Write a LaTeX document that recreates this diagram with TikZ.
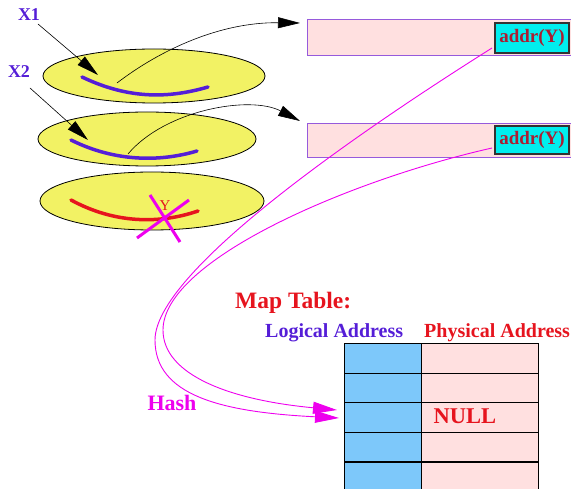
\documentclass[tikz,border=0pt]{standalone}
\usepackage{fontspec}
\setmainfont{Liberation Serif}
\usetikzlibrary{arrows.meta}

\definecolor{diskyellow}{RGB}{242,242,100}
\definecolor{ptrblue}{RGB}{85,30,215}
\definecolor{hotred}{RGB}{230,20,30}
\definecolor{addrred}{RGB}{170,30,50}
\definecolor{addrcyan}{RGB}{0,238,238}
\definecolor{rowpink}{RGB}{255,224,224}
\definecolor{rowblue}{RGB}{125,200,250}
\definecolor{frame}{RGB}{150,90,220}
\definecolor{hashpink}{RGB}{238,0,238}

\tikzset{
  disk/.style={draw=black, line width=0.8pt, fill=diskyellow},
  seg/.style={line width=3.5pt, line cap=round},
  pointer/.style={draw=black, line width=0.6pt,
    -{Triangle[length=22pt,width=11pt]}},
  hashline/.style={draw=hashpink, line width=0.9pt,
    -{Triangle[length=24pt,width=12pt]}},
  label/.style={inner sep=0pt, font=\bfseries\fontsize{20}{24}\selectfont},
  pagebox/.style={draw=frame, line width=1.2pt, fill=rowpink},
  addrbox/.style={draw=black!80, line width=1.2pt, fill=addrcyan},
  cell/.style={draw=black, line width=1.2pt}
}

\begin{document}
\begin{tikzpicture}[x=1pt, y=-1pt]
\useasboundingbox (0,0) rectangle (571,489);

% stack of disks
\fill[disk] (154,76) ellipse [x radius=111, y radius=27];
\fill[disk] (147,139) ellipse [x radius=109, y radius=27];
\fill[disk] (152,201) ellipse [x radius=112, y radius=29];

% live versions X1, X2 and the dead version Y
\draw[seg, ptrblue] (82,77) .. controls (130,100) and (170,98) .. (208,87);
\draw[seg, ptrblue] (71,140) .. controls (115,162) and (160,162) .. (197,151);
\draw[seg, hotred] (71,200) .. controls (115,224) and (160,224) .. (198,211);

\node[inner sep=0pt, text=hotred, font=\fontsize{15}{18}\selectfont] (ylab) at (165,206) {Y};
\draw[hashpink, line width=3pt] (150,195) -- (180,242);
\draw[hashpink, line width=3pt] (189,200) -- (137,238);

% labels of the versions
\node[label, text=ptrblue, font=\bfseries\fontsize{18}{20}\selectfont] (x1) at (29,15) {X1};
\node[label, text=ptrblue, font=\bfseries\fontsize{18}{20}\selectfont] (x2) at (19,72) {X2};
\coordinate (x1tail) at (38,24);
\coordinate (x1tip) at (98,75);
\coordinate (x2tail) at (30,88);
\coordinate (x2tip) at (88,140);
\draw[pointer] (x1tail) -- (x1tip);
\draw[pointer] (x2tail) -- (x2tip);

% pages holding the forward pointers
\node[pagebox, minimum width=268pt, minimum height=36pt, anchor=north west, inner sep=0pt] (page1) at (307,19) {};
\node[pagebox, minimum width=268pt, minimum height=34pt, anchor=north west, inner sep=0pt] (page2) at (307,123) {};
\node[addrbox, minimum width=74pt, minimum height=30pt, inner sep=0pt] (addr1) at (532,38)
  {\color{addrred}\bfseries\fontsize{19}{22}\selectfont addr(Y)};
\node[addrbox, minimum width=74pt, minimum height=28pt, inner sep=0pt] (addr2) at (532,140)
  {\color{addrred}\bfseries\fontsize{19}{22}\selectfont addr(Y)};

% pointers from the versions to their pages
\coordinate (v1) at (117,83);
\coordinate (v2) at (128,154);
\coordinate (p1in) at (300,23);
\coordinate (p2in) at (300,121);
\draw[pointer] (v1) .. controls (160,50) and (220,22) .. (p1in);
\draw[pointer] (v2) .. controls (165,110) and (250,95) .. (p2in);

% map table
\node[label, text=hotred, font=\bfseries\fontsize{23.5}{27}\selectfont, anchor=west] (maptitle) at (235,303) {Map Table:};
\node[label, text=ptrblue, anchor=west] (logical) at (265,333) {Logical Address};
\node[label, text=hotred, anchor=west] (physical) at (424,333) {Physical Address};

\foreach \r in {0,...,5} {
  \node[cell, fill=rowblue, anchor=north west, minimum width=77pt, minimum height=29.6pt, inner sep=0pt]
    (lg\r) at (344,{343+29.6*\r}) {};
  \node[cell, fill=rowpink, anchor=north west, minimum width=117pt, minimum height=29.6pt, inner sep=0pt]
    (ph\r) at (421,{343+29.6*\r}) {};
}
\node[label, text=hotred, font=\bfseries\fontsize{22.5}{26}\selectfont] (null) at (465,416) {NULL};

% hashing of both addresses into the same table slot
\coordinate (a1) at (492,48);
\coordinate (a2) at (492,148);
\coordinate (slotlow) at (339,418);
\coordinate (slothigh) at (337,410);
\draw[hashline] (a1) .. controls (400,106) and (155,265) .. (155,340)
  .. controls (155,395) and (220,412) .. (slotlow);
\draw[hashline] (a2) .. controls (350,180) and (163,260) .. (163,330)
  .. controls (163,375) and (230,400) .. (slothigh);
\node[label, text=hashpink, font=\bfseries\fontsize{22}{25}\selectfont] (hash) at (172,403) {Hash};

\end{tikzpicture}
\end{document}
